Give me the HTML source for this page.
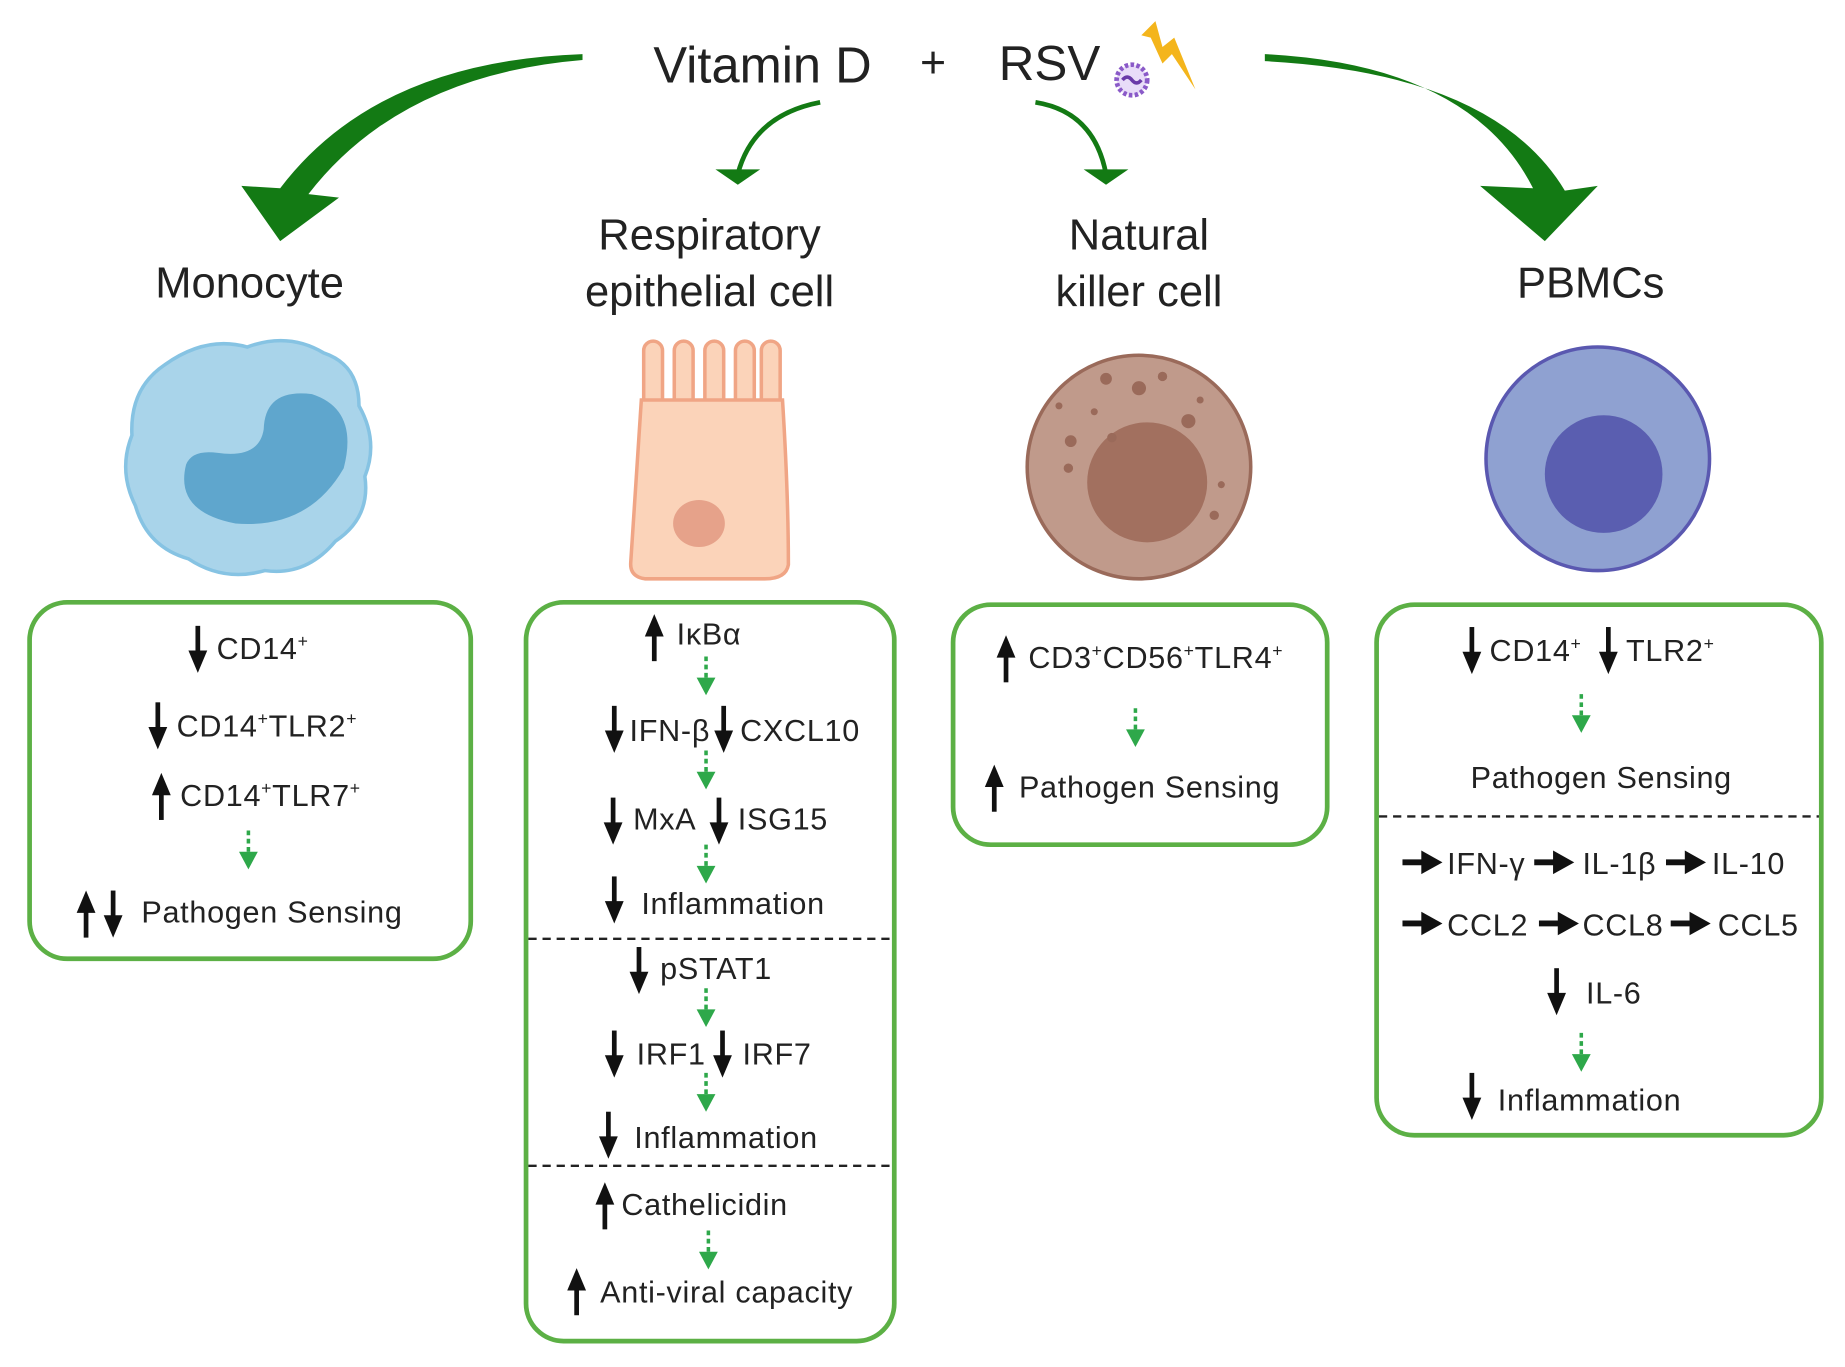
<!DOCTYPE html>
<html><head><meta charset="utf-8"><style>
html,body{margin:0;padding:0;background:#fff;}
svg{display:block;}
text{font-family:"Liberation Sans",sans-serif;fill:#222;}
.b{font-size:26px;letter-spacing:0.6px;}
.sup{font-size:15px;}
</style></head><body>
<svg width="1845" height="1367" viewBox="0 0 1568 1162" xmlns="http://www.w3.org/2000/svg">
<defs>
<g id="dn"><line x1="0" y1="0" x2="0" y2="28" stroke="#111" stroke-width="4"/><polygon points="-8,21 8,21 0,40" fill="#111"/></g>
<g id="up"><line x1="0" y1="12" x2="0" y2="40" stroke="#111" stroke-width="4"/><polygon points="-8,19 8,19 0,0" fill="#111"/></g>
<g id="rt"><line x1="0" y1="0" x2="22" y2="0" stroke="#111" stroke-width="5"/><polygon points="16,-10 16,10 34,0" fill="#111"/></g>
<g id="gd"><line x1="0" y1="0" x2="0" y2="22" stroke="#2ea84a" stroke-width="3" stroke-dasharray="4,3"/><polygon points="-8,18 8,18 0,33" fill="#2ea84a"/></g>
</defs>

<text x="648" y="70" font-size="43" text-anchor="middle">Vitamin D</text>
<text x="793" y="66" font-size="38" text-anchor="middle">+</text>
<text x="892" y="68" font-size="42" text-anchor="middle">RSV</text>
<circle cx="962" cy="68" r="13" fill="#e8dcf8" stroke="#8a5ac8" stroke-width="4" stroke-dasharray="3,2"/>
<path d="M954,68 q4,-5 8,0 q4,5 8,0" stroke="#6a3aa8" stroke-width="3" fill="none"/>
<polygon points="970,30 982,18 988,40 998,32 1016,76 996,46 988,54 978,32" fill="#f4b51c"/>

<path d="M495,46 Q320,52 238,160 L205,158 L238,205 L288,168 L262,165 Q340,64 495,51 Z" fill="#137a14"/>
<path d="M1075,46 Q1250,55 1303,160 L1258,158 L1313,205 L1358,158 L1330,162 Q1270,62 1075,52 Z" fill="#137a14"/>
<path d="M697,87 Q640,98 627,148" stroke="#137a14" stroke-width="4" fill="none"/>
<polygon points="608,144 646,144 627,157" fill="#137a14"/>
<path d="M880,87 Q930,95 940,148" stroke="#137a14" stroke-width="4" fill="none"/>
<polygon points="921,144 959,144 940,157" fill="#137a14"/>

<text x="212" y="253" font-size="37" text-anchor="middle">Monocyte</text>
<text x="603" y="212" font-size="37" text-anchor="middle">Respiratory</text>
<text x="603" y="260" font-size="37" text-anchor="middle">epithelial cell</text>
<text x="968" y="212" font-size="37" text-anchor="middle">Natural</text>
<text x="968" y="260" font-size="37" text-anchor="middle">killer cell</text>
<text x="1352" y="253" font-size="37" text-anchor="middle">PBMCs</text>

<path d="M140,310 Q175,285 210,295 Q245,282 275,300 Q305,310 305,345 Q322,375 310,405 Q315,440 285,460 Q260,490 225,485 Q190,495 160,475 Q125,465 115,430 Q100,400 112,370 Q110,330 140,310 Z" fill="#a9d4ea" stroke="#86c3e3" stroke-width="3"/>
<path d="M158,395 Q148,435 200,445 Q262,450 292,398 Q305,348 265,335 Q225,330 224,365 Q220,390 185,385 Q163,382 158,395 Z" fill="#5fa6cd"/>

<g fill="#fbd3b9" stroke="#f0a585" stroke-width="3">
<rect x="547" y="290" width="16" height="70" rx="8"/>
<rect x="573" y="290" width="16" height="70" rx="8"/>
<rect x="599" y="290" width="16" height="70" rx="8"/>
<rect x="625" y="290" width="16" height="70" rx="8"/>
<rect x="647" y="290" width="16" height="70" rx="8"/>
<path d="M545,340 L665,340 Q670,420 670,480 Q668,492 650,492 L548,492 Q535,490 536,478 Q540,420 545,340 Z"/>
</g>
<ellipse cx="594" cy="445" rx="22" ry="20" fill="#e6a28a"/>

<circle cx="968" cy="397" r="95" fill="#c09a8b" stroke="#9a6a5a" stroke-width="3"/>
<circle cx="975" cy="410" r="51" fill="#a2705f"/>
<g fill="#9a6a5a"><circle cx="940" cy="322" r="5"/><circle cx="968" cy="330" r="6"/><circle cx="988" cy="320" r="4"/><circle cx="1010" cy="358" r="6"/><circle cx="910" cy="375" r="5"/><circle cx="908" cy="398" r="4"/><circle cx="930" cy="350" r="3"/><circle cx="1032" cy="438" r="4"/><circle cx="1038" cy="412" r="3"/><circle cx="900" cy="345" r="3"/><circle cx="1020" cy="340" r="3"/><circle cx="945" cy="372" r="4"/></g>

<circle cx="1358" cy="390" r="95" fill="#8fa1d1" stroke="#5a58b0" stroke-width="3"/>
<circle cx="1363" cy="403" r="50" fill="#5a5eb0"/>

<g fill="none" stroke="#5cb045" stroke-width="4">
<rect x="25" y="512" width="375" height="303" rx="32"/>
<rect x="447" y="512" width="313" height="628" rx="32"/>
<rect x="810" y="514" width="318" height="204" rx="32"/>
<rect x="1170" y="514" width="378" height="451" rx="32"/>
</g>
<g stroke="#222" stroke-width="2" stroke-dasharray="7,5">
<line x1="449" y1="798" x2="758" y2="798"/>
<line x1="449" y1="991" x2="758" y2="991"/>
<line x1="1172" y1="694" x2="1546" y2="694"/>
</g>

<use href="#dn" x="168" y="532"/><text class="b" x="184" y="560">CD14<tspan class="sup" dy="-10">+</tspan></text>
<use href="#dn" x="134" y="597"/><text class="b" x="150" y="626">CD14<tspan class="sup" dy="-10">+</tspan><tspan dy="10">TLR2</tspan><tspan class="sup" dy="-10">+</tspan></text>
<use href="#up" x="137" y="657"/><text class="b" x="153" y="685">CD14<tspan class="sup" dy="-10">+</tspan><tspan dy="10">TLR7</tspan><tspan class="sup" dy="-10">+</tspan></text>
<use href="#gd" x="211" y="706"/>
<use href="#up" x="73" y="757"/><use href="#dn" x="96" y="757"/><text class="b" x="120" y="784">Pathogen Sensing</text>

<use href="#up" x="556" y="522"/><text class="b" x="575" y="548">IκBα</text>
<use href="#gd" x="600" y="558"/>
<use href="#dn" x="522" y="600"/><text class="b" x="535" y="630">IFN-β</text>
<use href="#dn" x="615" y="600"/><text class="b" x="629" y="630">CXCL10</text>
<use href="#gd" x="600" y="638"/>
<use href="#dn" x="521" y="678"/><text class="b" x="538" y="705">MxA</text>
<use href="#dn" x="611" y="678"/><text class="b" x="627" y="705">ISG15</text>
<use href="#gd" x="600" y="718"/>
<use href="#dn" x="522" y="745"/><text class="b" x="545" y="777">Inflammation</text>
<use href="#dn" x="543" y="805"/><text class="b" x="561" y="832">pSTAT1</text>
<use href="#gd" x="600" y="840"/>
<use href="#dn" x="522" y="876"/><text class="b" x="541" y="905">IRF1</text>
<use href="#dn" x="614" y="876"/><text class="b" x="631" y="905">IRF7</text>
<use href="#gd" x="600" y="912"/>
<use href="#dn" x="517" y="945"/><text class="b" x="539" y="976">Inflammation</text>
<use href="#up" x="514" y="1005"/><text class="b" x="528" y="1033">Cathelicidin</text>
<use href="#gd" x="602" y="1046"/>
<use href="#up" x="490" y="1078"/><text class="b" x="510" y="1107">Anti-viral capacity</text>

<use href="#up" x="855" y="540"/><text class="b" x="874" y="568">CD3<tspan class="sup" dy="-10">+</tspan><tspan dy="10">CD56</tspan><tspan class="sup" dy="-10">+</tspan><tspan dy="10">TLR4</tspan><tspan class="sup" dy="-10">+</tspan></text>
<use href="#gd" x="965" y="602"/>
<use href="#up" x="845" y="650"/><text class="b" x="866" y="678">Pathogen Sensing</text>

<use href="#dn" x="1251" y="533"/><text class="b" x="1266" y="562">CD14<tspan class="sup" dy="-10">+</tspan></text>
<use href="#dn" x="1367" y="533"/><text class="b" x="1382" y="562">TLR2<tspan class="sup" dy="-10">+</tspan></text>
<use href="#gd" x="1344" y="590"/>
<text class="b" x="1361" y="670" text-anchor="middle">Pathogen Sensing</text>
<use href="#rt" x="1192" y="733"/><text class="b" x="1230" y="743">IFN-γ</text>
<use href="#rt" x="1304" y="733"/><text class="b" x="1345" y="743">IL-1β</text>
<use href="#rt" x="1416" y="733"/><text class="b" x="1455" y="743">IL-10</text>
<use href="#rt" x="1192" y="785"/><text class="b" x="1230" y="795">CCL2</text>
<use href="#rt" x="1308" y="785"/><text class="b" x="1345" y="795">CCL8</text>
<use href="#rt" x="1420" y="785"/><text class="b" x="1460" y="795">CCL5</text>
<use href="#dn" x="1323" y="823"/><text class="b" x="1348" y="853">IL-6</text>
<use href="#gd" x="1344" y="878"/>
<use href="#dn" x="1251" y="912"/><text class="b" x="1273" y="944">Inflammation</text>
</svg>
</body></html>
